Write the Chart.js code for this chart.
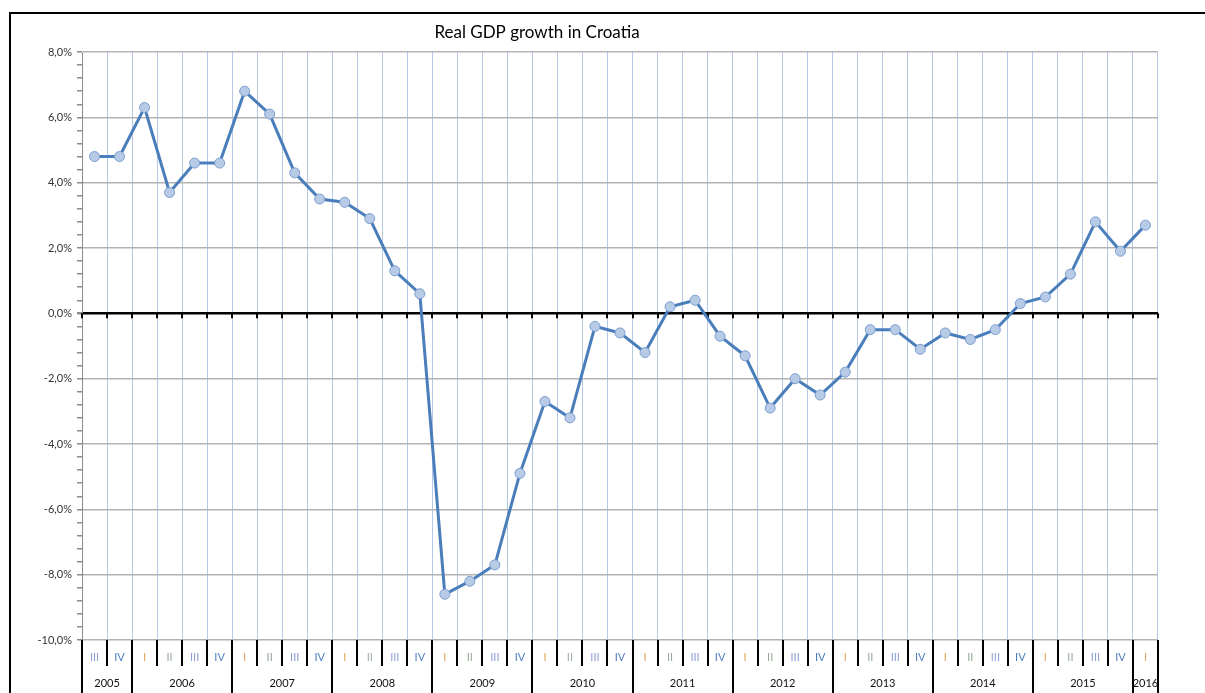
<!DOCTYPE html>
<html>
<head>
<meta charset="utf-8">
<title>Real GDP growth in Croatia</title>
<script src="https://cdn.jsdelivr.net/npm/chart.js@4/dist/chart.umd.min.js"></script>
<style>
  html, body { margin: 0; padding: 0; background: #fff; }
</style>
</head>
<body>
<canvas id="canvas" width="1205" height="693"></canvas>
<script>
// quarter + year of every point, 2005 III .. 2016 I
const quarters = ['III','IV',
  'I','II','III','IV', 'I','II','III','IV', 'I','II','III','IV', 'I','II','III','IV',
  'I','II','III','IV', 'I','II','III','IV', 'I','II','III','IV', 'I','II','III','IV',
  'I','II','III','IV', 'I','II','III','IV',
  'I'];
const years = ['2005','2005',
  '2006','2006','2006','2006', '2007','2007','2007','2007', '2008','2008','2008','2008',
  '2009','2009','2009','2009', '2010','2010','2010','2010', '2011','2011','2011','2011',
  '2012','2012','2012','2012', '2013','2013','2013','2013', '2014','2014','2014','2014',
  '2015','2015','2015','2015',
  '2016'];
// real GDP growth, % year on year
const growth = [4.8, 4.8,
  6.3, 3.7, 4.6, 4.6,
  6.8, 6.1, 4.3, 3.5,
  3.4, 2.9, 1.3, 0.6,
  -8.6, -8.2, -7.7, -4.9,
  -2.7, -3.2, -0.4, -0.6,
  -1.2, 0.2, 0.4, -0.7,
  -1.3, -2.9, -2.0, -2.5,
  -1.8, -0.5, -0.5, -1.1,
  -0.6, -0.8, -0.5, 0.3,
  0.5, 1.2, 2.8, 1.9,
  2.7];
const yTicksMajor = 2; // labelled every 2 %, minor ticks every 0.4 %

const quarterColor = { 'I': '#e2a55a', 'II': '#9aab9c', 'III': '#8c9fd3', 'IV': '#4f7ec0' };

function isMajor(v) {
  return Math.abs(v / yTicksMajor - Math.round(v / yTicksMajor)) < 1e-6;
}

const decor = {
  id: 'decor',
  beforeDraw(chart) {
    const c = chart.ctx;
    c.save();
    c.fillStyle = '#fff';
    c.fillRect(0, 0, chart.width, chart.height);
    // outer frame of the chart object
    c.strokeStyle = '#000';
    c.lineWidth = 2;
    c.strokeRect(10, 13, chart.width + 20, chart.height + 20);
    // title
    c.fillStyle = '#000';
    c.font = '17px Lato';
    c.textAlign = 'center';
    c.textBaseline = 'middle';
    c.fillText('Real GDP growth in Croatia', 537, 33);
    c.restore();
  },
  beforeDatasetsDraw(chart) {
    const c = chart.ctx, xs = chart.scales.x, ys = chart.scales.y;
    const half = (xs.getPixelForValue(1) - xs.getPixelForValue(0)) / 2;
    const y0 = ys.getPixelForValue(0);
    c.save();
    c.strokeStyle = '#000';
    c.lineWidth = 2;
    for (let i = 0; i <= quarters.length; i++) {
      const x = Math.round(xs.getPixelForValue(i) - half);
      c.beginPath();
      c.moveTo(x, y0);
      c.lineTo(x, y0 + 5);
      c.stroke();
    }
    c.restore();
  },
  afterDraw(chart) {
    const c = chart.ctx, xs = chart.scales.x, area = chart.chartArea;
    const half = (xs.getPixelForValue(1) - xs.getPixelForValue(0)) / 2;
    const bottom = chart.height;
    c.save();
    c.strokeStyle = '#000';
    c.lineWidth = 2;
    c.textAlign = 'center';
    c.textBaseline = 'middle';
    let groupStart = 0;
    for (let i = 0; i < quarters.length; i++) {
      const cx = xs.getPixelForValue(i);
      const left = Math.round(cx - half);
      const newYear = i === 0 || years[i] !== years[i - 1];
      c.beginPath();
      c.moveTo(left, area.bottom);
      c.lineTo(left, newYear ? bottom : area.bottom + 26);
      c.stroke();
      c.font = '11px Lato';
      c.fillStyle = quarterColor[quarters[i]];
      c.fillText(quarters[i], cx, area.bottom + 17);
      const endYear = i === quarters.length - 1 || years[i] !== years[i + 1];
      if (endYear) {
        const x1 = xs.getPixelForValue(groupStart) - half;
        const x2 = cx + half;
        c.font = '11px Lato';
        c.fillStyle = '#111';
        c.fillText(years[i], (x1 + x2) / 2, area.bottom + 43);
        groupStart = i + 1;
      }
    }
    const lastRight = Math.round(xs.getPixelForValue(quarters.length - 1) + half);
    c.beginPath();
    c.moveTo(lastRight, area.bottom);
    c.lineTo(lastRight, bottom);
    c.stroke();
    c.restore();
  }
};

new Chart(document.getElementById('canvas'), {
  type: 'line',
  data: {
    labels: quarters.map((q, i) => years[i] + ' ' + q),
    datasets: [{
      data: growth,
      borderColor: '#4a7ebb',
      borderWidth: 3,
      pointRadius: 5,
      pointBackgroundColor: '#b7cbe6',
      pointBorderColor: '#7c9ed0',
      pointBorderWidth: 1,
      tension: 0,
      clip: false
    }]
  },
  options: {
    responsive: false,
    animation: false,
    layout: { padding: { left: 9, right: 47, top: 52, bottom: 0 } },
    plugins: {
      legend: { display: false },
      tooltip: { enabled: false },
      title: { display: false }
    },
    scales: {
      x: {
        offset: true,
        grid: { offset: true, color: '#b4c8e8', lineWidth: 1, drawTicks: false },
        border: { display: false },
        ticks: { display: false },
        afterFit(scale) { scale.height = 53; }
      },
      y: {
        min: -10,
        max: 8,
        ticks: {
          stepSize: 0.4,
          autoSkip: false,
          color: '#333',
          font: { family: 'Lato', size: 11 },
          padding: 5,
          callback: v => isMajor(v) ? v.toFixed(1).replace('.', ',') + '%' : ''
        },
        grid: {
          color: ctx => ctx.tick.value === 0 ? '#000' : (isMajor(ctx.tick.value) ? '#b3b3b3' : 'rgba(0,0,0,0)'),
          lineWidth: ctx => ctx.tick.value === 0 ? 2.5 : 1.5,
          tickColor: '#8c8c8c',
          tickLength: 5
        },
        border: { color: '#8c8c8c', width: 1 },
        afterFit(scale) { scale.width = 73; }
      }
    }
  },
  plugins: [decor]
});
</script>
</body>
</html>
